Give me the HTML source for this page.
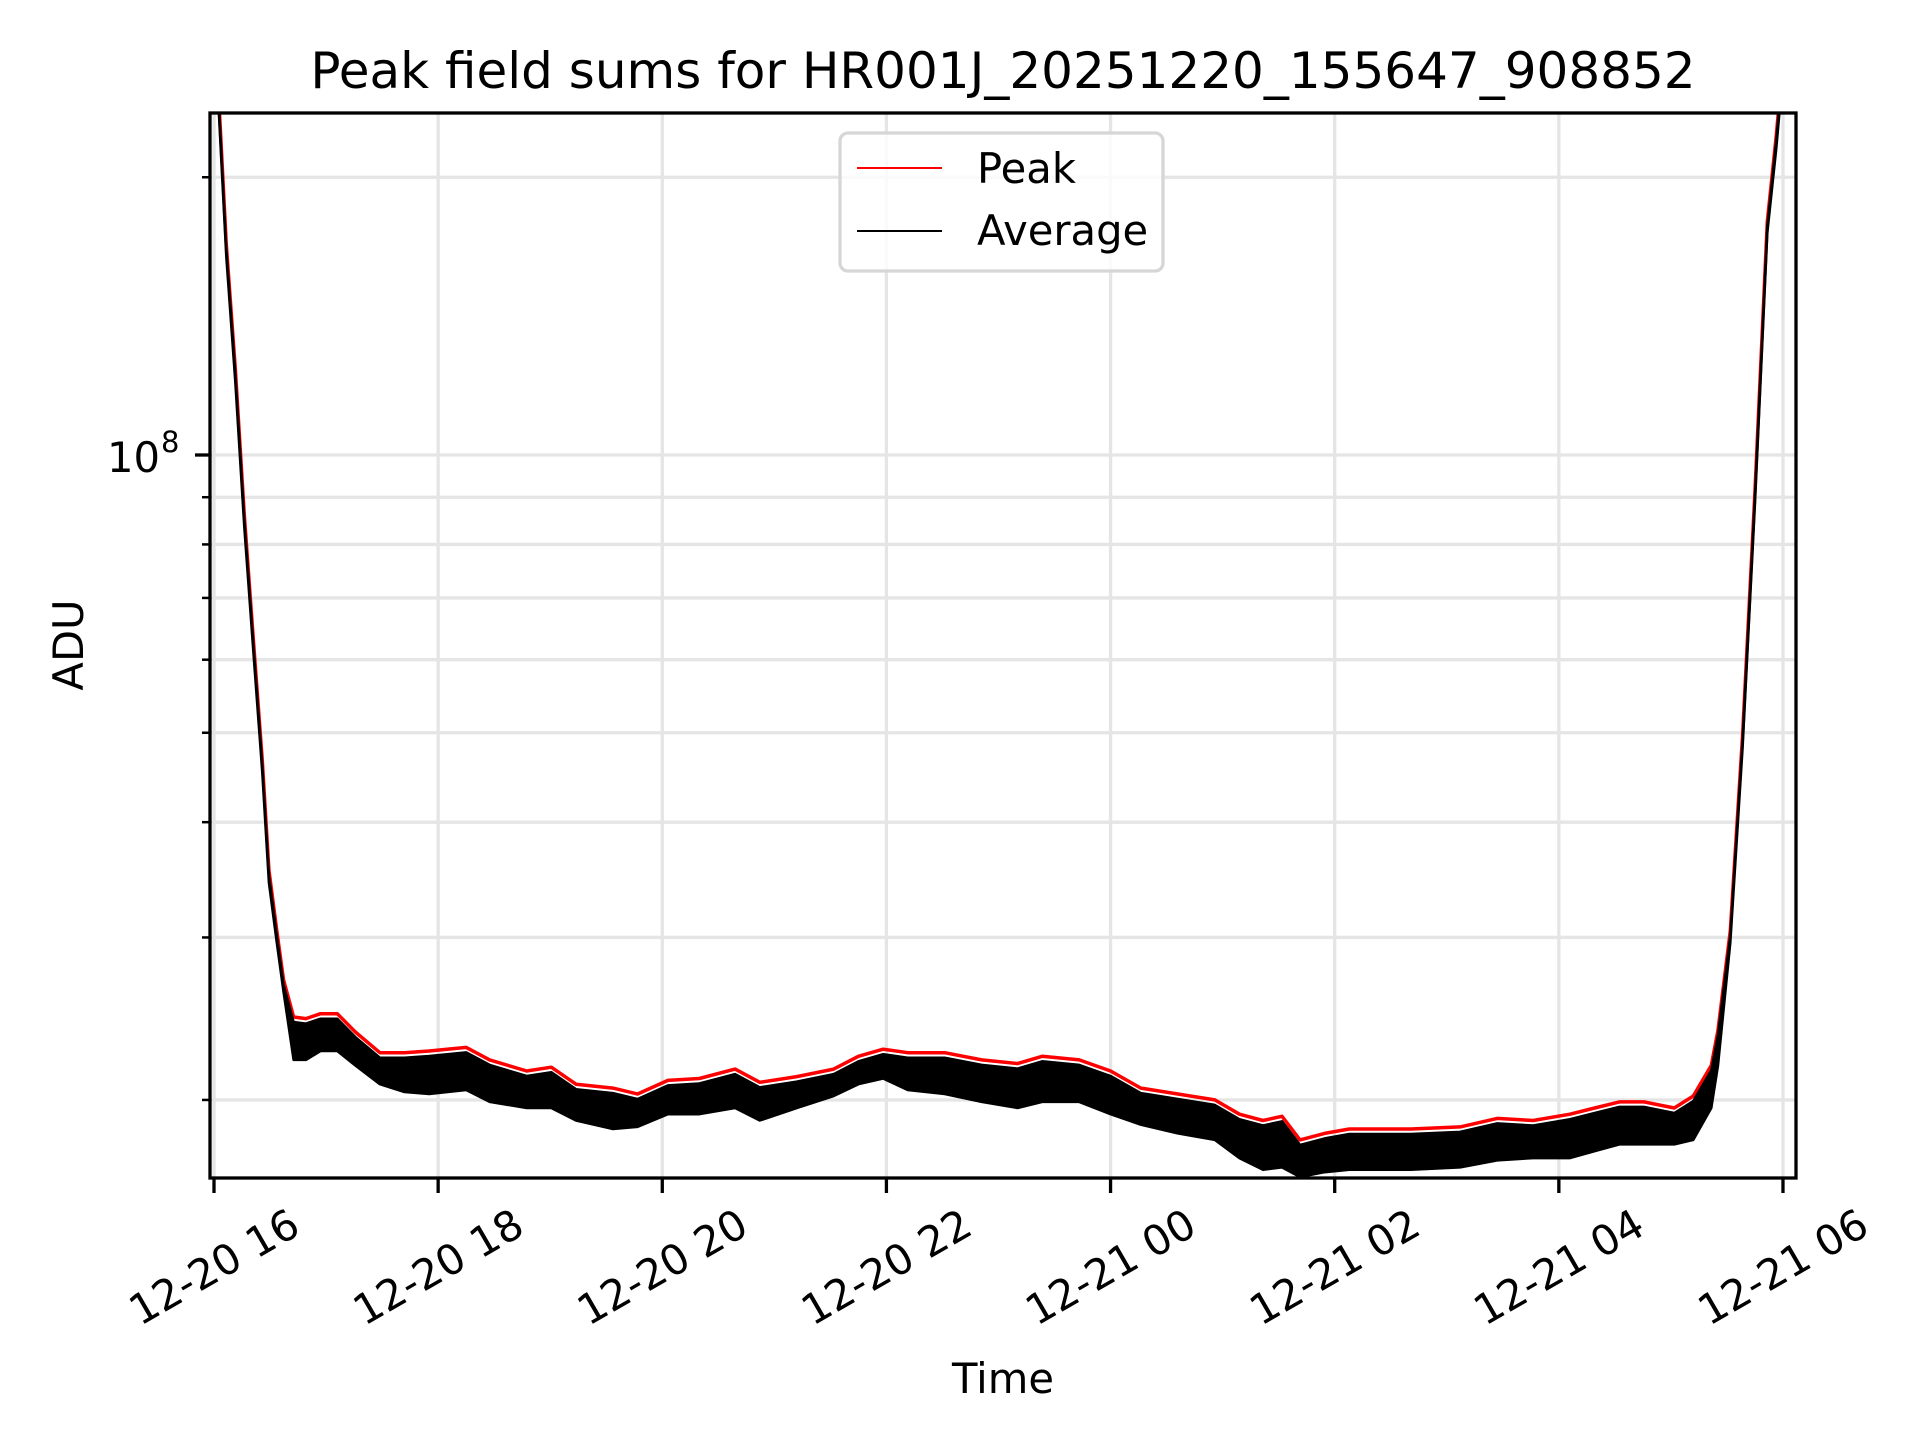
<!DOCTYPE html>
<html><head><meta charset="utf-8"><style>
html,body{margin:0;padding:0;background:#fff;}
svg text{font-family:"DejaVu Sans","Liberation Sans",sans-serif;fill:#000;}
</style></head><body>
<svg id="chart" width="1920" height="1440" viewBox="0 0 1920 1440" xmlns="http://www.w3.org/2000/svg">
<rect x="0" y="0" width="1920" height="1440" fill="#fff"/>
<defs><clipPath id="plotclip"><rect x="210" y="113" width="1586" height="1065"/></clipPath></defs>
<g id="grid"></g>
<g id="series" clip-path="url(#plotclip)"></g>
<rect x="210" y="113" width="1586" height="1065" fill="none" stroke="#000" stroke-width="3.3"/>
<g id="axes"></g>
<text x="1003" y="88" font-size="50" text-anchor="middle">Peak field sums for HR001J_20251220_155647_908852</text>
<text x="1003" y="1393" font-size="41.7" text-anchor="middle">Time</text>
<text x="0" y="0" font-size="41.7" text-anchor="middle" transform="translate(83,645) rotate(-90)">ADU</text>
<g>
<rect x="840" y="133" width="323" height="138" rx="8" fill="#fff" fill-opacity="0.8" stroke="#d6d6d6" stroke-width="3.3"/>
<line x1="857" y1="168" x2="942" y2="168" stroke="#f00" stroke-width="2"/>
<text x="977" y="183" font-size="41.7">Peak</text>
<line x1="857" y1="231" x2="942" y2="231" stroke="#000" stroke-width="2"/>
<text x="977" y="245" font-size="41.7">Average</text>
</g>
</svg>
<script>
// hours after 2025-12-20 16:00
var hours = [0.03,0.11,0.19,0.27,0.35,0.43,0.49,0.56,0.62,0.71,0.82,0.95,1.10,1.26,1.48,1.70,1.92,2.25,2.46,2.79,3.01,3.23,3.56,3.78,4.05,4.33,4.65,4.87,5.20,5.53,5.75,5.97,6.19,6.52,6.85,7.17,7.39,7.72,8.00,8.27,8.60,8.93,9.15,9.36,9.53,9.69,9.91,10.13,10.68,11.12,11.45,11.77,12.10,12.32,12.54,12.76,13.03,13.20,13.36,13.42,13.53,13.64,13.75,13.86,13.94,13.99];
var peakValues = [2.6e8,1.69e8,1.24e8,8.61e7,6.34e7,4.68e7,3.55e7,3.05e7,2.70e7,2.46e7,2.45e7,2.48e7,2.48e7,2.37e7,2.25e7,2.25e7,2.26e7,2.28e7,2.21e7,2.15e7,2.17e7,2.08e7,2.06e7,2.03e7,2.10e7,2.11e7,2.16e7,2.09e7,2.12e7,2.16e7,2.23e7,2.27e7,2.25e7,2.25e7,2.21e7,2.19e7,2.23e7,2.21e7,2.15e7,2.06e7,2.03e7,2.00e7,1.93e7,1.90e7,1.92e7,1.81e7,1.84e7,1.86e7,1.86e7,1.87e7,1.91e7,1.90e7,1.93e7,1.96e7,1.99e7,1.99e7,1.96e7,2.02e7,2.18e7,2.38e7,3.05e7,4.97e7,9.15e7,1.79e8,2.22e8,2.6e8];
var averageLow = [2.52e8,1.64e8,1.20e8,8.35e7,6.15e7,4.54e7,3.44e7,2.96e7,2.62e7,2.21e7,2.21e7,2.26e7,2.26e7,2.18e7,2.08e7,2.04e7,2.03e7,2.05e7,1.99e7,1.96e7,1.96e7,1.90e7,1.86e7,1.87e7,1.93e7,1.93e7,1.96e7,1.90e7,1.96e7,2.02e7,2.08e7,2.11e7,2.05e7,2.03e7,1.99e7,1.96e7,1.99e7,1.99e7,1.93e7,1.88e7,1.84e7,1.81e7,1.73e7,1.68e7,1.69e7,1.65e7,1.67e7,1.68e7,1.68e7,1.69e7,1.72e7,1.73e7,1.73e7,1.76e7,1.79e7,1.79e7,1.79e7,1.81e7,1.96e7,2.18e7,2.96e7,4.82e7,8.88e7,1.74e8,2.15e8,2.52e8];
var xTickHours = [0,2,4,6,8,10,12,14];
var xTickLabels = ["12-20 16","12-20 18","12-20 20","12-20 22","12-21 00","12-21 02","12-21 04","12-21 06"];
var yMinorValues = [2e7,3e7,4e7,5e7,6e7,7e7,8e7,9e7,2e8];
var yMajorValue = 1e8;

var NS = "http://www.w3.org/2000/svg";
function X(h){ return 214 + h * 112.07; }
function Y(v){ return 455 - (Math.log10(v) - 8) * 922.7; }
function mk(tag, attrs, parent){
  var e = document.createElementNS(NS, tag);
  for (var k in attrs) e.setAttribute(k, attrs[k]);
  parent.appendChild(e); return e;
}
var gridG = document.getElementById('grid');
var axesG = document.getElementById('axes');
var seriesG = document.getElementById('series');

xTickHours.forEach(function(h, i){
  var x = X(h);
  var g = mk('line', {x1:x, y1:113, x2:x, y2:1178, stroke:'#e5e5e5', 'stroke-width':3.3}, gridG);
  
  
  var t = mk('line', {x1:x, y1:1178, x2:x, y2:1193, stroke:'#000', 'stroke-width':3.3}, axesG);
  
  
  var lb = mk('text', {x:x, y:1267, 'font-size':41.7, 'text-anchor':'middle', 'dominant-baseline':'central', transform:'rotate(-30 '+x+' 1267)'}, axesG);
  lb.textContent = xTickLabels[i];
  
  
});
yMinorValues.forEach(function(v){
  var y = Y(v);
  var g = mk('line', {x1:210, y1:y, x2:1796, y2:y, stroke:'#e5e5e5', 'stroke-width':3.3}, gridG);
  
  
  var t = mk('line', {x1:202, y1:y, x2:210, y2:y, stroke:'#000', 'stroke-width':2.5}, axesG);
  
  
});
(function(){
  var y = Y(yMajorValue);
  var g = mk('line', {x1:210, y1:y, x2:1796, y2:y, stroke:'#e5e5e5', 'stroke-width':3.3}, gridG);
  
  
  var t = mk('line', {x1:195, y1:y, x2:210, y2:y, stroke:'#000', 'stroke-width':3.3}, axesG);
  
  
  var lb = mk('text', {x:160, y:y+17, 'font-size':41.7, 'text-anchor':'end'}, axesG);
  lb.textContent = '10';
  
  
  var sup = mk('text', {x:161, y:y-3, 'font-size':29}, axesG);
  sup.textContent = '8';
  
  
})();

var pp = hours.map(function(h,i){ return X(h).toFixed(1)+','+Y(peakValues[i]).toFixed(1); }).join(' ');
var peakLine = mk('polyline', {points:pp, fill:'none', stroke:'#f00', 'stroke-width':3.5, 'stroke-linejoin':'round'}, seriesG);


var bandTop = hours.map(function(h,i){ return X(h).toFixed(1)+','+(Y(peakValues[i])+5).toFixed(1); });
var bandBot = hours.map(function(h,i){ return X(h).toFixed(1)+','+Y(averageLow[i]).toFixed(1); }).reverse();
var band = mk('polygon', {points: bandTop.concat(bandBot).join(' '), fill:'#000', stroke:'#000', 'stroke-width':2.5, 'stroke-linejoin':'round'}, seriesG);


</script>
</body></html>
